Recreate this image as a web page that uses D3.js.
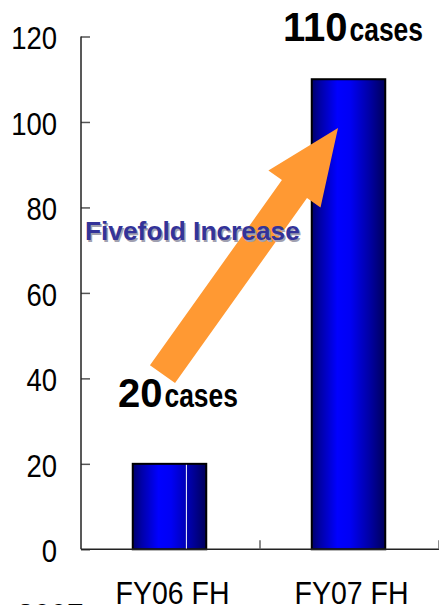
<!DOCTYPE html>
<html>
<head>
<meta charset="utf-8">
<script src="https://cdn.jsdelivr.net/npm/d3@7"></script>
<style>
  html, body { margin: 0; padding: 0; background: #fff; overflow: hidden; }
  svg { display: block; }
  text { font-family: "Liberation Sans", Arial, sans-serif; }
</style>
</head>
<body>
<svg id="chart" width="439" height="605"></svg>
<script>
// Cases per first half of fiscal year
const categories = ["FY06 FH", "FY07 FH"];
const cases = [20, 110];
const yTicks = [0, 20, 40, 60, 80, 100, 120];
const unitLabel = "cases";
const growthLabel = "Fivefold Increase";
const footLabel = "2007";

const svg = d3.select("#chart");

const x = d3.scaleBand().domain(categories).range([81, 439]).paddingInner(0).paddingOuter(0);
const y = d3.scaleLinear().domain([0, 120]).range([549.3, 36.5]);
const barW = 73.5;

// Bar gradient: dark navy edges, bright blue core
const defs = svg.append("defs");
const grad = defs.append("linearGradient").attr("id", "barGrad")
  .attr("x1", "0%").attr("x2", "100%").attr("y1", "0%").attr("y2", "0%");
[["0%", "#00006a"], ["12%", "#0000a8"], ["35%", "#0000ff"], ["52%", "#0000f5"], ["80%", "#0000a0"], ["100%", "#00005a"]]
  .forEach(([o, c]) => grad.append("stop").attr("offset", o).attr("stop-color", c));

// Y axis with inward ticks
const yAxis = svg.append("g").attr("transform", `translate(${x.range()[0]},0)`)
  .call(d3.axisRight(y).tickValues(yTicks).tickSize(9).tickFormat(""));
yAxis.select(".domain").remove();
yAxis.selectAll(".tick line").attr("stroke", "#555").attr("stroke-width", 1.5);
svg.append("line").attr("x1", 81).attr("x2", 81).attr("y1", y(120)).attr("y2", y(0))
  .attr("stroke", "#222").attr("stroke-width", 1.5);

svg.append("g").selectAll("text").data(yTicks).join("text")
  .attr("x", 57).attr("y", d => y(d) + 13)
  .attr("text-anchor", "end").attr("font-size", 27.5).attr("fill", "#000")
  .attr("transform", d => `translate(0,${-(y(d) + 13) * 0.12}) scale(1,1.12)`)
  .text(d => d);

// Bars
const barX = d => x(d) + (x.bandwidth() - barW) / 2 - 1;
svg.append("g").selectAll("rect").data(categories).join("rect")
  .attr("x", d => barX(d))
  .attr("y", (d, i) => y(cases[i]))
  .attr("width", barW)
  .attr("height", (d, i) => y(0) - y(cases[i]))
  .attr("fill", "url(#barGrad)")
  .attr("stroke", "#000").attr("stroke-width", 2);

// thin highlight streak on the first bar
svg.append("line")
  .attr("x1", barX(categories[0]) + barW * 0.73).attr("x2", barX(categories[0]) + barW * 0.73)
  .attr("y1", y(cases[0]) + 1).attr("y2", y(0))
  .attr("stroke", "#fff").attr("stroke-width", 1);

// X axis baseline with category dividers
svg.append("line").attr("x1", 81).attr("x2", 439).attr("y1", y(0)).attr("y2", y(0))
  .attr("stroke", "#222").attr("stroke-width", 1.5);
svg.append("g").selectAll("line").data(categories).join("line")
  .attr("x1", d => x(d) + x.bandwidth()).attr("x2", d => x(d) + x.bandwidth())
  .attr("y1", y(0) - 9).attr("y2", y(0))
  .attr("stroke", "#666").attr("stroke-width", 1.5);

svg.append("g").selectAll("text").data(categories).join("text")
  .attr("x", d => x(d) + x.bandwidth() / 2 + 2)
  .attr("y", 604)
  .attr("text-anchor", "middle").attr("font-size", 28.5).attr("fill", "#000")
  .attr("transform", `translate(0,${-604 * 0.12}) scale(1,1.12)`)
  .text(d => d);

svg.append("text").attr("x", 17).attr("y", 624).attr("font-size", 30).attr("fill", "#000")
  .text(footLabel);

// Growth arrow from the first value up to the second bar
const tail = [x(categories[0]) + 81.5, y(41)];
const tip = [x(categories[1]) + 78, y(98.6)];
const dx = tip[0] - tail[0], dy = tip[1] - tail[1];
const len = Math.hypot(dx, dy);
const u = [dx / len, dy / len], n = [-u[1], u[0]];
const shaftHalf = 15.4, headHalf = 32, headLen = 75;
const base = [tip[0] - u[0] * headLen, tip[1] - u[1] * headLen];
const P = (p, k) => [p[0] + n[0] * k, p[1] + n[1] * k];
const arrowPts = [
  P(tail, shaftHalf), P(base, shaftHalf), P(base, headHalf), tip,
  P(base, -headHalf), P(base, -shaftHalf), P(tail, -shaftHalf)
];
svg.append("polygon").attr("points", arrowPts.map(p => p.join(",")).join(" "))
  .attr("fill", "#ff9933");

// Growth caption with soft shadow
svg.append("text").attr("x", 86.5).attr("y", 241.5).attr("font-size", 26.3).attr("font-weight", "bold")
  .attr("fill", "#a0a0b0").text(growthLabel);
svg.append("text").attr("x", 85).attr("y", 240).attr("font-size", 26.3).attr("font-weight", "bold")
  .attr("fill", "#333399").text(growthLabel);

// Value labels: large bold number followed by a condensed unit word
const valueLabels = [
  { x: 118, y: 407 },
  { x: 283, y: 41 }
];
cases.forEach((v, i) => {
  const { x: lx, y: ly } = valueLabels[i];
  const num = svg.append("text").attr("x", lx).attr("y", ly)
    .attr("font-weight", "bold").attr("font-size", 40).attr("fill", "#000").text(v);
  const nw = num.node().getComputedTextLength();
  const ux = lx + nw + 2;
  svg.append("text").attr("x", 0).attr("y", 0)
    .attr("transform", `translate(${ux},${ly}) scale(0.8,1)`)
    .attr("font-weight", "bold").attr("font-size", 33).attr("fill", "#000").text(unitLabel);
});
</script>
</body>
</html>
